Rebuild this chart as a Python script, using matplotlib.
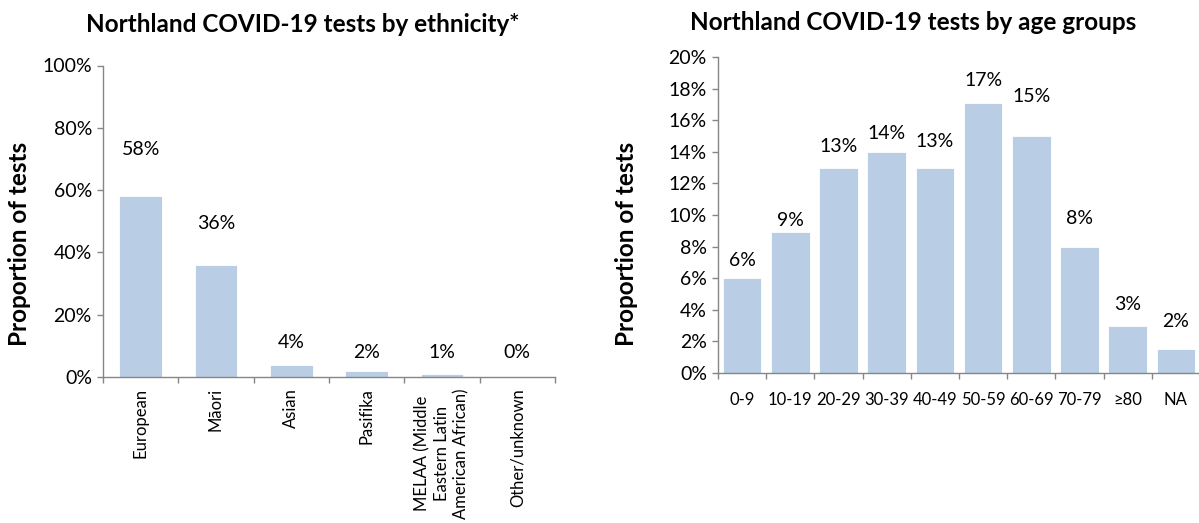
import matplotlib
matplotlib.use("Agg")
import matplotlib.pyplot as plt
from matplotlib.ticker import FixedLocator, NullFormatter

plt.rcParams['font.family'] = ['Lato', 'DejaVu Sans']

# ---------------- data ----------------
eth_categories = ["European", "Māori", "Asian", "Pasifika",
                  "MELAA (Middle\nEastern Latin\nAmerican African)", "Other/unknown"]
eth_values = [58, 36, 4, 2, 1, 0]
eth_yticks = [0, 20, 40, 60, 80, 100]
eth_yticklabels = ["0%", "20%", "40%", "60%", "80%", "100%"]

age_categories = ["0-9", "10-19", "20-29", "30-39", "40-49", "50-59",
                  "60-69", "70-79", "≥80", "NA"]
age_values = [6.0, 8.9, 13.0, 14.0, 12.95, 17.1, 15.0, 8.0, 3.0, 1.5]
age_yticks = [0, 2, 4, 6, 8, 10, 12, 14, 16, 18, 20]
age_yticklabels = ["0%", "2%", "4%", "6%", "8%", "10%", "12%", "14%",
                   "16%", "18%", "20%"]

# label offsets above bar tops (pixels), as placed in the original
eth_label_off = [47, 41, 22, 18.5, 21.6, 24.7]
age_label_off = [18, 12, 21, 18, 27, 22, 39, 28, 21, 28]

BAR = "#B9CDE5"
AX = "#868686"
W, H = 1199, 523
fig = plt.figure(figsize=(W / 100, H / 100), dpi=100)

def style(ax, n, ticks, labels):
    for s in ("top", "right"):
        ax.spines[s].set_visible(False)
    for s in ("left", "bottom"):
        ax.spines[s].set_color(AX)
        ax.spines[s].set_linewidth(1.0)
    ax.set_yticks(ticks)
    ax.set_yticklabels(labels, fontsize=14)
    ax.tick_params(axis='y', length=4, width=1.0, color=AX, pad=4)
    ax.xaxis.set_minor_locator(FixedLocator([i - 0.5 for i in range(n + 1)]))
    ax.xaxis.set_minor_formatter(NullFormatter())
    ax.tick_params(axis='x', which='minor', length=4, width=1.0, color=AX)
    ax.tick_params(axis='x', which='major', length=0)

# ---------------- left chart ----------------
ax1 = fig.add_axes([103 / W, 1 - 377 / H, (555 - 103) / W, (377 - 65.5) / H])
x1 = list(range(len(eth_categories)))
ax1.bar(x1, eth_values, width=0.57, color=BAR, edgecolor="white", linewidth=0.6)
ax1.set_xlim(-0.5, len(eth_categories) - 0.5)
ax1.set_ylim(0, 100)
style(ax1, len(eth_categories), eth_yticks, eth_yticklabels)
ax1.set_xticks(x1)
ax1.set_xticklabels(eth_categories, rotation=90, fontsize=12, va='top', ha='center',
                    multialignment='center', linespacing=1.25)
ax1.tick_params(axis='x', which='major', pad=8)
for xi, v, off in zip(x1, eth_values, eth_label_off):
    ax1.annotate(f"{v:.0f}%", xy=(xi, v), xytext=(0, off * 0.72),
                 textcoords='offset points', ha='center', va='center', fontsize=14)

# ---------------- right chart ----------------
ax2 = fig.add_axes([718 / W, 1 - 373 / H, (1200 - 718) / W, (373 - 57) / H])
x2 = list(range(len(age_categories)))
ax2.bar(x2, age_values, width=0.8, color=BAR, edgecolor="white", linewidth=0.6)
ax2.set_xlim(-0.5, len(age_categories) - 0.5)
ax2.set_ylim(0, 20)
style(ax2, len(age_categories), age_yticks, age_yticklabels)
ax2.set_xticks(x2)
ax2.set_xticklabels(age_categories, fontsize=12)
ax2.tick_params(axis='x', which='major', pad=14)
for xi, v, off in zip(x2, age_values, age_label_off):
    ax2.annotate(f"{v:.0f}%", xy=(xi, v), xytext=(0, off * 0.72),
                 textcoords='offset points', ha='center', va='center', fontsize=14)

# ---------------- titles and axis labels ----------------
fig.text(303 / W, 1 - 25 / H, "Northland COVID-19 tests by ethnicity*",
         ha='center', va='center', fontsize=17.5, fontweight='bold')
fig.text(913 / W, 1 - 22 / H, "Northland COVID-19 tests by age groups",
         ha='center', va='center', fontsize=17.5, fontweight='bold')
fig.text(20 / W, 1 - 244 / H, "Proportion of tests", rotation=90,
         ha='center', va='center', fontsize=17.5, fontweight='bold')
fig.text(626 / W, 1 - 244 / H, "Proportion of tests", rotation=90,
         ha='center', va='center', fontsize=17.5, fontweight='bold')

fig.savefig("out.png", dpi=100, facecolor="white")
